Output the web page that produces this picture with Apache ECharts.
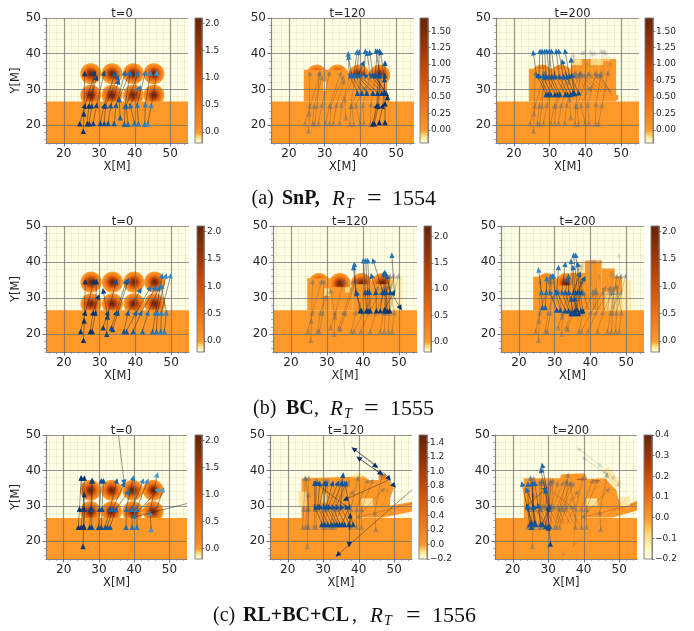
<!DOCTYPE html>
<html><head><meta charset="utf-8">
<style>html,body{margin:0;padding:0;background:#fff}#c,#cap{position:absolute;left:0;top:0;width:694px;height:631px}#c{filter:blur(.45px)}#cap{pointer-events:none}</style>
<script src="https://cdn.jsdelivr.net/npm/echarts@6/dist/echarts.min.js"></script>
</head><body><div id="c"></div><div id="cap"></div>
<script>
// ---- data ----
const YlOrBr=['#ffffe5','#fff7bc','#fee391','#fec44f','#fe9929','#ec7014','#cc4c02','#993404','#662506'];
const blues=['#08306b','#0d4a8c','#1a62a6','#2a7ab8','#4a9fd0'];
const titles=['t=0','t=120','t=200','t=0','t=120','t=200','t=0','t=120','t=200'];
const cbRanges=[[-.2,2.1],[-.2,1.7],[-.2,1.7],[-.2,2.1],[-.2,2.2],[-.2,2.1],[-.2,2.1],[-.2,1.5],[-.2,.4]];
const cbTicks=[[0,.5,1,1.5,2],[0,.25,.5,.75,1,1.25,1.5],[0,.25,.5,.75,1,1.25,1.5],[0,.5,1,1.5,2],[0,.5,1,1.5,2],[0,.5,1,1.5,2],[0,.5,1,1.5,2],[-.2,0,.2,.4,.6,.8,1,1.2,1.4],[-.2,-.1,0,.1,.2,.3,.4]];
const cbDecimals=[1,2,2,1,1,1,1,1,1];
const blobProfile=[[0,1],[.15,.9],[.35,.6],[.55,.3],[.75,.1],[.9,0]];
const blobsAll=[[27.6,34.4],[33.6,34.4],[39.6,34.4],[45.4,34.4],[27.6,28.4],[33.6,28.4],[39.6,28.4],[45.4,28.4]];
const blobsTop=[[27.8,34],[33.6,34],[39.6,34],[45.4,34]];
const blobsTwo=[[27.8,34],[33.2,34]];
const ground=[15,15,55,26.6,0,1];
// painted outlines: polygon vertices for the two late panels of run (c)
const outline8=[[23.9,26.6],[23.9,37.8],[38.5,38.2],[41.3,38.5],[42.7,37.3],[46,37.3],[46.9,38.9],[48.8,36.8],[49.9,34.9],[48.8,32.1],[48.8,30],[55.3,31.2],[55.3,28.5],[46.9,26.7]];
const outline9=[[23.1,26.5],[23.1,37.8],[33.3,37.8],[33.8,38.9],[40.3,39.2],[41,37.6],[46,37.8],[49.2,34.5],[49.7,32.1],[51.1,29.8],[55.3,31.6],[55.3,28.8],[48.3,26.7]];
const fringe9=[[45,40.1],[46.9,41.1],[50.7,36.4],[49.1,34.9]];
const outlines=[[],[],[],[],[],[],[],[outline8],[outline9]];
// painted rectangles: x0,y0,x1,y1,value,opacity
const paint2=[ground,[24.2,26.6,36.5,35.5,0,1],[36.5,26.6,47.5,33.8,0,1],[47,26.5,48,28.5,0,1],[29.6,29.5,30.4,32.2,-.2,.9]];
const paint3=[ground,[24.2,26.6,36,35.8,0,1],[36,26.6,48.6,38.5,0,1],[36,36.8,39,38.5,-.1,.9],[41.5,36.8,45,38.5,-.1,.9],[45,38,47,39,-.1,.6],[48.5,27,49.2,28.5,0,1]];
const paint5=[ground,[24.5,26.6,31,35.5,0,1],[31,26.6,37,33,0,1],[37,26.6,47.5,33.8,0,1],[47.5,26.6,51,36,-.1,.55],[29.2,30.5,30.7,32.7,-.1,.9],[35,31.5,36.3,33,-.1,.9]];
const paint6=[ground,[24,26.6,28.7,35.9,0,1],[28.7,26.6,31,35.5,0,1],[31,26.6,34.3,33.5,0,1],[34.3,26.6,38.5,37,0,1],[38.5,26.6,43.1,40.4,0,1],[43.1,26.6,46.8,38.2,0,1],[46.8,26.6,48.9,36,0,1],[36.6,37,38.5,40.1,-.1,.65],[44,26.6,48.9,31.7,-.1,.8],[48.9,26.6,51.5,35,-.1,.6]];
const paint8=[[23,29.8,25.3,34,-.1,.8],[38.5,38,41.3,39.2,-.1,.7],[25,37.8,27,38.3,-.1,.6],[45.6,37.3,47.6,39,.25,.8],[29.5,31,31,33.5,-.12,.85],[40.8,30,44,32.1,-.12,.85]];
const paint9=[[38,37.3,40.8,37.7,.15,1],[42.7,36.9,44.6,37.3,.12,1],[40.8,30,43.8,32.1,-.12,.9],[50.2,29.9,53,32.6,-.12,.9]];
const paints=[[ground],paint2,paint3,[ground],paint5,paint6,[ground],[ground],[ground]];
const overPaints=[[],[],[],[],[],[],[],paint8,paint9];
const blobsByPanel=[blobsAll,blobsTop,blobsTwo,blobsAll,blobsTop,blobsTwo,blobsAll,[],[]];
const peaks=[2.1,1.7,1.7,2.1,2.2,2.1,2.1,1.5,.4];
// arrow tips per time step
const A1=[[24.5,20.6],[25.5,18.5],[26.6,20.6],[27.2,20.6],[28.3,20.7],[30.3,20.7],[31.4,20.7],[32.5,20.7],[34.2,20.7],[35.9,22.3],[37.1,20.5],[38.1,20.5],[39.9,20.7],[42.8,20.5],[43.7,20.6],[41,20.6]];
const B1=[[26,25.6],[25.7,23.4],[27.1,25.6],[27.9,25.6],[29.3,25.8],[31.4,25.6],[31.8,25.6],[33.3,25.7],[34.8,25.8],[35.6,27.4],[37.3,25.5],[37.6,25.5],[38.7,25.7],[43,26],[44.7,25.7],[40.7,25.8]];
const C1=[[28.8,34.7],[25.9,34.7],[29.3,33.5],[28.5,34.8],[31.4,34.8],[34.6,34.7],[35.3,33.6],[35.5,32.4],[37.3,34.8],[38.6,34.8],[38.7,34.8],[41,34.7],[41.5,30.7],[44.5,34.8],[46.3,34.8],[43,34.8]];
const A2=[[39.2,29.2],[40.4,29.2],[41.8,29.2],[43.5,29.2],[44.8,29.2],[46,29.2],[46.7,29.2],[47.2,29.2],[47.6,28]];
const D2=[[43.5,20.6],[43.9,20.6],[45.3,21],[46.9,21]];
const E2=[[44.6,25.6],[45.1,25.6],[46.3,25.6],[46.9,26.2]];
const B2=[[36.9,34.1],[37.6,34.1],[38.2,34.1],[38.8,34.1],[39.5,34.1],[41.1,34.1],[42.7,34.1],[43.5,34.1],[44.1,34.1],[45.1,34.1],[45.5,34.1],[46.9,34.1],[46.7,33]];
const C2=[[36.6,40.2],[36.6,39.3],[39.1,40.7],[39.7,40.7],[40.9,37.6],[41.4,40.9],[41.9,40.4],[42.6,40.6],[44.8,40.9],[45.3,40.9],[44.3,41],[46.9,37.6],[45.6,40.6]];
const A3=[[29,28.8],[29.6,28.8],[30.3,28.8],[31.5,28.8],[32.2,28.8],[32.9,28.8],[34.4,28.8],[35,28.8],[35.9,28.8],[36.6,29.3],[38.1,29.3],[37,29]];
const B3=[[26.3,34.2],[27,34],[28.2,33.8],[29,33.8],[29.9,33.8],[30.6,33.8],[31.5,33.8],[32.7,33.8],[33.8,33.8],[34.8,33.8],[35.5,34],[36.2,34.2]];
const C3=[[25.4,40.5],[27.3,40.9],[27.9,40.9],[28.6,40.9],[29.2,40.9],[29.9,40.9],[30.5,40.9],[31.8,40.9],[32.5,40.9],[33.5,38],[34.3,40.9],[36,38.5]];
const A4=[[24.7,20.9],[25.5,18.5],[27.4,20.9],[27.9,20.9],[32,20.2],[31,22],[33.3,21.9],[33.7,21.5],[36.8,20.9],[37.5,20.9],[39.4,20.9],[42,20.9],[44.8,20.9],[45.9,20.9],[47.1,20.9],[48.1,20.9]];
const B4=[[26,26.1],[25.7,23.9],[28.2,26.1],[28.9,26.1],[32.2,25],[32.4,26.1],[34.7,26.1],[35.2,26.1],[38,26.1],[40.3,26.1],[41.7,26.1],[43.6,26.1],[45.7,26.1],[46.2,26.1],[47.3,26.1],[48.7,26.1]];
const C4=[[28.5,34.8],[26,34.8],[29.8,30.6],[29.1,34.8],[31,32.2],[34.7,34.8],[37.5,34.8],[38,35],[41.5,32.4],[44.2,33],[45.7,33],[46.7,33],[47.5,36.4],[48.6,36.4],[49.9,36.4],[47.2,33.5]];
const A5=[[39.2,26.7],[39.6,26.7],[41,26.7],[41.4,26.7],[42,26.7],[43.7,26.7],[44.8,26.7],[46.2,26.7],[46.7,26.7],[47.4,26.7],[46,27]];
const B5=[[38.1,31.8],[38,31.5],[40.6,31.8],[41.3,31.8],[41.8,31.8],[43.6,31.8],[45.5,31.8],[46,31.8],[46.4,31.8],[47.6,31.8],[48.7,31.8]];
const C5=[[37.3,38.7],[37.6,39.6],[40.1,40.6],[40.7,40.6],[41.3,40.6],[42.3,36.4],[42.8,40.6],[45.7,36.9],[46.1,37.3],[46.6,36.2],[48,42.1]];
const F5from=[[47,33]],F5to=[[50.5,27]];
const A6=[[26.6,27.6],[27.4,27.6],[30.6,26.9],[31.6,26.9],[33,26.7],[33.9,26.7],[34.6,25.9],[35.3,25.9],[35.9,25.9],[36.7,25.9],[37.3,26.7],[37.9,26.7],[35.6,26.5],[34.9,26.2],[36.2,27]];
const B6=[[26.3,31.8],[27.7,31.8],[28.6,31.8],[30.2,31.8],[30.6,31.8],[32,31.8],[33,31.8],[33.9,31.8],[35.3,31.8],[35.8,31.8],[36.4,31.8],[37,31.8],[37.6,31.8],[34.6,30],[35.5,30]];
const C6=[[25.5,38],[27.8,35.6],[29,36.2],[29.5,36.4],[31.1,38.7],[33,39.6],[33.7,35.5],[33.9,36.2],[34.6,40.4],[35.1,38.7],[35.3,42.1],[35.9,42.1],[36.4,39.6],[37.1,36.9],[38.4,35.7]];
const A7=[[24.2,24.2],[25.5,18.8],[25,24.2],[25.7,24.2],[27.4,24.2],[28,24.2],[29.9,24.2],[30.7,24.2],[31.8,24.2],[32.4,24.2],[33.2,24.2],[37.7,24.2],[39.4,24.2],[40.8,24.2],[44.8,23.6],[55.5,30.8]];
const B7=[[24.5,29.3],[25.7,24.5],[25.5,29.3],[25.9,29.3],[27.7,29.3],[28,29.3],[30.2,29.3],[30.9,29.3],[33.2,29.3],[34,29.3],[35,29.3],[37.8,29.3],[39.4,29.3],[40.8,29.3],[44.5,28.2],[39.5,26.7]];
const C7=[[25,38.1],[25.9,33.4],[25.9,38.1],[25,38.1],[28.2,37.3],[28,37.3],[30.7,37.3],[31.3,37.3],[35.1,37.3],[37.2,36.4],[38.4,34.1],[39.8,38.1],[42.6,37.3],[43.9,37.3],[46.6,39],[47.1,34.8]];
const G7from=[[35.5,50.5],[46.4,29.3]],G7to=[[37.2,36.4],[48.3,34.8]];
const A8=[[29.6,25],[30.4,25],[31.3,25],[32.3,25],[33.2,25],[33.9,25],[34.6,25],[36,25],[37.2,25],[38.4,25],[35.3,25]];
const B8=[[27.6,30],[28.5,30],[29,30],[30.1,30],[30.9,30],[31.5,30],[32.6,30],[33.7,30],[34.9,30],[36.3,30],[37.4,30]];
const C8=[[27.6,36.6],[29,36.6],[30.4,36.6],[30.9,36.6],[32.7,36.6],[34.2,36.6],[35.3,36.6],[36.5,36.6],[35.6,38.9],[27.6,36.6],[36,36.6]];
const L8from=[[45.4,41.1],[46.7,38.7],[38.4,46.2],[39.8,43.6],[47,39.5],[46,40],[48.2,37.2],[55.5,35],[37.6,27.5],[37.3,23]];
const L8to=[[38.4,46.2],[39.8,43.6],[45,41],[46.4,39],[48.7,37.5],[50.1,35.5],[36,31.7],[33.9,16],[37.3,18.8],[37.6,27.5]];
const A9=[[24.8,25],[25.3,24.2],[26.5,25],[27.9,25.1],[28.4,25],[29.2,24.4],[30,24],[30.6,19.5],[25.3,25.5],[26.2,25.5]];
const B9=[[24,30],[24.3,30],[25.7,30],[27.1,30.3],[30.2,29.4],[30.4,30],[25.7,30],[30.2,24.5],[24,30],[25.7,30]];
const C9=[[22.6,36.4],[24.3,36.4],[25.5,36.6],[26.2,36.6],[27.9,40.3],[28.3,41.6],[23.8,34.8],[29.2,34.5],[29.5,35],[25.5,36.6]];
// per panel: from, to, ageing level (0 current, 1 older, 2 oldest), optional fixed shade
const tracks=[
 [[A1,A1,0],[A1,B1,0],[B1,C1,0]],
 [[A1,A1,1],[A1,B1,1],[B1,C1,1],[D2,D2,0],[D2,E2,0],[A2,B2,0],[E2,B2.slice(9),0],[A2,A2,0],[B2,C2,0]],
 [[A1,A1,1],[A1,B1,1],[B1,C1,1],[A2,B2,1],[B2,C2,2],[A3,A3,0],[A3,B3,0],[B3,C3,0]],
 [[A4,A4,0],[A4,B4,0],[B4,C4,0]],
 [[A4,A4,1],[A4,B4,1],[B4,C4,1],[A5,A5,0],[A5,B5,0],[B5,C5,0],[F5from,F5to,0,.05]],
 [[A4,A4,1],[A4,B4,1],[B4,C4,1],[A5,B5,1],[B5,C5,2],[A6,A6,0],[A6,B6,0],[B6,C6,0]],
 [[A7,A7,0],[A7,B7,0],[B7,C7,0],[G7from,G7to,0]],
 [[A7,A7,1],[A7,B7,1],[B7,C7,1],[G7from,G7to,2],[A8,A8,0],[A8,B8,0],[B8,C8,0],[L8from,L8to,0,0]],
 [[A7,A7,1],[A7,B7,1],[B7,C7,1],[A8,B8,1],[B8,C8,1],[L8from,L8to,2],[A9,A9,0],[A9,B9,0],[B9,C9,0]]
];
const shadeRule=[[.9,0,.45],[-.7,.6,.55],[0,.6,.3],[.8,0,.3],[-.2,.9,.3],[-.6,.6,.35],[.9,0,.5],[0,.2,.3],[-.3,.3,.3]];
const xMajor=[20,30,40,50],yMajor=[20,30,40,50];
const xMinor=[16,18,22,24,26,28,32,34,36,38,42,44,46,48,52,54],yMinor=[16,18,22,24,26,28,32,34,36,38,42,44,46,48];
// caption pieces: text, left x, kind
const captionRows=[
 {y:199,parts:[['(a)',251.5,'n'],['SnP,',282,'b'],['R',332,'i'],['T',346,'s'],['=',367,'e'],['1554',392,'d']]},
 {y:409,parts:[['(b)',253,'n'],['BC',286,'b'],[',',314,'n'],['R',330,'i'],['T',344,'s'],['=',364,'e'],['1555',390,'d']]},
 {y:616,parts:[['(c)',213,'n'],['RL+BC+CL',243,'b'],[',',352,'n'],['R',370,'i'],['T',384,'s'],['=',406,'e'],['1556',432,'d']]}];
// ---- layout ----
const plotX=[[46,188,195,202],[271,414,420,428],[496,639,645,653],[46,189,197,204],[273,417,424,431],[501,644,651,659],[46,187,195,202],[270,412,419,427],[495,637,644,652]];
const plotY=[[18,143],[226,352],[435,559]];
const tickFont=12,cbFont=9,sans='DejaVu Sans';
const axisGray='rgba(120,120,120,.9)';

function hexRgb(h){return [1,3,5].map(i=>parseInt(h.substr(i,2),16));}
function cmap(t){t=Math.max(0,Math.min(1,t))*(YlOrBr.length-1);const i=Math.min(Math.floor(t),YlOrBr.length-2),f=t-i;const a=hexRgb(YlOrBr[i]),b=hexRgb(YlOrBr[i+1]);return a.map((v,k)=>Math.round(v+(b[k]-v)*f));}
function norm(v,r){return v<0?.5*(v-r[0])/(0-r[0]):.5+.5*v/r[1];}
function colorOf(v,r,a){const c=cmap(norm(v,r));return `rgba(${c[0]},${c[1]},${c[2]},${a==null?1:a})`;}
function invNorm(t,r){return t<.5?r[0]+(0-r[0])*t/.5:(t-.5)/.5*r[1];}
function shadeColor(s){s=Math.max(0,Math.min(1,s))*(blues.length-1);const i=Math.min(Math.floor(s),blues.length-2),f=s-i;const a=hexRgb(blues[i]),b=hexRgb(blues[i+1]);const c=a.map((v,k)=>Math.round(v+(b[k]-v)*f));return `rgb(${c})`;}

const grid=[],xAxis=[],yAxis=[],series=[],title=[];
const axisStyle={lineStyle:{color:axisGray,width:1.2}};
const majorSplit={show:true,lineStyle:{color:'rgba(110,110,110,.72)',width:1.2}};
const minorSplit={show:true,lineStyle:{color:'rgba(120,120,70,.13)',width:.8}};
plotX.forEach((px,i)=>{
 const py=plotY[Math.floor(i/3)],r=cbRanges[i],g=grid.length;
 grid.push({left:px[0],width:px[1]-px[0],top:py[0],height:py[1]-py[0],show:true,backgroundColor:colorOf(r[0],r),borderWidth:0});
 grid.push({left:px[2],width:px[3]-px[2],top:py[0],height:py[1]-py[0]});
 const xm=xAxis.length,ym=yAxis.length;
 xAxis.push({type:'value',gridIndex:g,min:15,max:55,position:'bottom',z:3,name:'X[M]',nameLocation:'middle',nameGap:16,
  nameTextStyle:{fontFamily:sans,fontSize:11.5,color:'#262626',verticalAlign:'top'},
  axisLine:{onZero:false,...axisStyle},axisTick:{customValues:xMajor,length:3.5,lineStyle:{color:'#555',width:.8}},
  axisLabel:{customValues:xMajor,fontFamily:sans,fontSize:tickFont,color:'#262626',margin:5},splitLine:majorSplit});
 yAxis.push({type:'value',gridIndex:g,min:15,max:50,position:'left',z:3,
  name:i%3===0?'Y[M]':'',nameLocation:'middle',nameGap:24,nameRotate:90,nameTextStyle:{fontFamily:sans,fontSize:11.5,color:'#262626'},
  axisLine:{onZero:false,...axisStyle},axisTick:{customValues:yMajor,length:3.5,lineStyle:{color:'#555',width:.8}},
  axisLabel:{customValues:yMajor,fontFamily:sans,fontSize:tickFont,color:'#262626',margin:5},splitLine:majorSplit});
 xAxis.push({type:'value',gridIndex:g,min:15,max:55,position:'bottom',axisLine:{show:false},axisLabel:{show:false},
  axisTick:{customValues:xMinor,length:2,lineStyle:{color:'#777',width:.6}},splitLine:minorSplit});
 yAxis.push({type:'value',gridIndex:g,min:15,max:50,position:'left',axisLine:{show:false},axisLabel:{show:false},
  axisTick:{customValues:yMinor,length:2,lineStyle:{color:'#777',width:.6}},splitLine:minorSplit});
 const peak=peaks[i];
 const rectSeries=(data)=>({type:'custom',xAxisIndex:xm,yAxisIndex:ym,z:2,clip:true,silent:true,data,dimensions:['x0','y0','x1','y1','v','a'],encode:{x:[0,2],y:[1,3]},
  renderItem:(p,api)=>{const a=api.coord([api.value(0),api.value(1)]),b=api.coord([api.value(2),api.value(3)]);
   return {type:'rect',shape:{x:a[0],y:b[1],width:b[0]-a[0],height:a[1]-b[1]},style:{fill:colorOf(api.value(4),r,api.value(5))}};}});
 // blobs
 series.push({type:'custom',xAxisIndex:xm,yAxisIndex:ym,z:2,clip:true,silent:true,data:blobsByPanel[i].map(b=>[b[0],b[1],3.1,peak]),dimensions:['x','y','r','p'],encode:{x:0,y:1},
  renderItem:(p,api)=>{const c=api.coord([api.value(0),api.value(1)]),rad=api.size([api.value(2),0])[0];
   const stops=blobProfile.map(s=>({offset:s[0],color:colorOf(api.value(3)*s[1],r)}));stops.push({offset:1,color:colorOf(0,r,0)});
   return {type:'circle',shape:{cx:c[0],cy:c[1],r:rad},style:{fill:new echarts.graphic.RadialGradient(.5,.5,.5,stops)}};}});
 series.push(rectSeries(paints[i]));
 // painted outlines
 if(outlines[i].length){const polys=outlines[i];
  series.push({type:'custom',xAxisIndex:xm,yAxisIndex:ym,z:2,clip:true,silent:true,data:polys.map((_,k)=>[k]),dimensions:['k'],encode:{x:0},
   renderItem:(p,api)=>({type:'polygon',shape:{points:polys[p.dataIndex].map(q=>api.coord(q))},style:{fill:colorOf(0,r)}})});
  if(i===8)series.push({type:'custom',xAxisIndex:xm,yAxisIndex:ym,z:2,clip:true,silent:true,data:[[0]],dimensions:['k'],encode:{x:0},
   renderItem:(p,api)=>({type:'polygon',shape:{points:fringe9.map(q=>api.coord(q))},style:{fill:colorOf(-.1,r,.7)}})});
 }
 if(overPaints[i].length)series.push(rectSeries(overPaints[i]));
 // arrows
 const rule=shadeRule[i],rows=[];
 tracks[i].forEach(t=>{const [F,T,lvl,fix]=t;const same=F===T;
  for(let k=0;k<Math.min(F.length,T.length);k++){const to=T[k],fr=same?[to[0],to[1]-.4]:F[k];
   const s=fix!=null?fix:rule[2]+rule[0]*(to[0]-35)/20+rule[1]*(to[1]-30)/20;
   rows.push([fr[0],fr[1],to[0],to[1],s,lvl]);}});
 series.push({type:'custom',xAxisIndex:xm,yAxisIndex:ym,z:5,clip:true,silent:true,data:rows,dimensions:['x0','y0','x1','y1','s','l'],encode:{x:[0,2],y:[1,3]},
  renderItem:(p,api)=>{const a=api.coord([api.value(0),api.value(1)]),b=api.coord([api.value(2),api.value(3)]),lvl=api.value(5);
   const ang=Math.atan2(b[1]-a[1],b[0]-a[0]),L=5.6,W=2.7,cs=Math.cos(ang),sn=Math.sin(ang);
   const tip=[b[0]+cs*2,b[1]+sn*2],bx=b[0]-cs*(L-2),by=b[1]-sn*(L-2);
   const head=[tip,[bx-sn*W,by+cs*W],[bx+sn*W,by-cs*W]];
   const op=lvl===0?1:lvl===1?.42:.16;
   const fill=lvl===0?shadeColor(api.value(4)):'#5f6b78';
   return {type:'group',children:[
    {type:'line',shape:{x1:a[0],y1:a[1],x2:b[0],y2:b[1]},style:{stroke:'#2b2b2b',lineWidth:.7,opacity:lvl===0?.72:op*.8,fill:null}},
    {type:'polygon',shape:{points:head},style:{fill:fill,opacity:op}}]};}});
 // colour bar
 const xb=xAxis.length,yb=yAxis.length,dec=cbDecimals[i];
 xAxis.push({type:'value',gridIndex:g+1,min:0,max:1,show:false});
 yAxis.push({type:'value',gridIndex:g+1,min:r[0],max:r[1],position:'right',z:3,axisLine:{show:true,onZero:false,lineStyle:{color:axisGray,width:1}},
  axisTick:{show:true,customValues:cbTicks[i],length:2.5,lineStyle:{color:'#555',width:.7}},
  axisLabel:{customValues:cbTicks[i],fontFamily:sans,fontSize:cbFont,color:'#262626',margin:3,formatter:v=>(v<0?'\u2212':'')+Math.abs(v).toFixed(dec)},splitLine:{show:false}});
 const stops=YlOrBr.map((_,k)=>{const t=k/(YlOrBr.length-1);return {offset:(invNorm(t,r)-r[0])/(r[1]-r[0]),color:YlOrBr[k]};});
 series.push({type:'custom',xAxisIndex:xb,yAxisIndex:yb,z:2,silent:true,data:[[0,r[0],1,r[1]]],dimensions:['x0','y0','x1','y1'],encode:{x:[0,2],y:[1,3]},
  renderItem:(p,api)=>{const a=api.coord([api.value(0),api.value(1)]),b=api.coord([api.value(2),api.value(3)]);
   return {type:'rect',shape:{x:a[0],y:b[1],width:b[0]-a[0],height:a[1]-b[1]},style:{fill:new echarts.graphic.LinearGradient(0,1,0,0,stops),stroke:axisGray,lineWidth:1}};}});
 title.push({text:titles[i],left:(px[0]+px[1])/2,top:py[0]-15,textAlign:'center',textStyle:{fontFamily:sans,fontSize:11.5,fontWeight:'normal',color:'#262626'}});
});
const chart=echarts.init(document.getElementById('c'),null,{renderer:'canvas'});
chart.setOption({animation:false,backgroundColor:'#fff',title,grid,xAxis,yAxis,series});
// captions: sharp, unblurred layer
const serif='Liberation Serif';
const kinds={n:{fontSize:20},b:{fontSize:20,fontWeight:'bold'},i:{fontSize:21,fontStyle:'italic'},s:{fontSize:14,fontStyle:'italic',dy:5},e:{fontSize:26},d:{fontSize:22}};
const capGraphic=[];
captionRows.forEach(row=>row.parts.forEach(p=>{const k=kinds[p[2]];
 capGraphic.push({type:'text',x:p[1],y:row.y+(k.dy||0),style:{text:p[0],fontFamily:serif,fontSize:k.fontSize,fontWeight:k.fontWeight||'normal',fontStyle:k.fontStyle||'normal',fill:'#111',verticalAlign:'middle',align:'left'}});}));
const capChart=echarts.init(document.getElementById('cap'),null,{renderer:'canvas'});
capChart.setOption({animation:false,backgroundColor:'transparent',graphic:capGraphic});
</script></body></html>
